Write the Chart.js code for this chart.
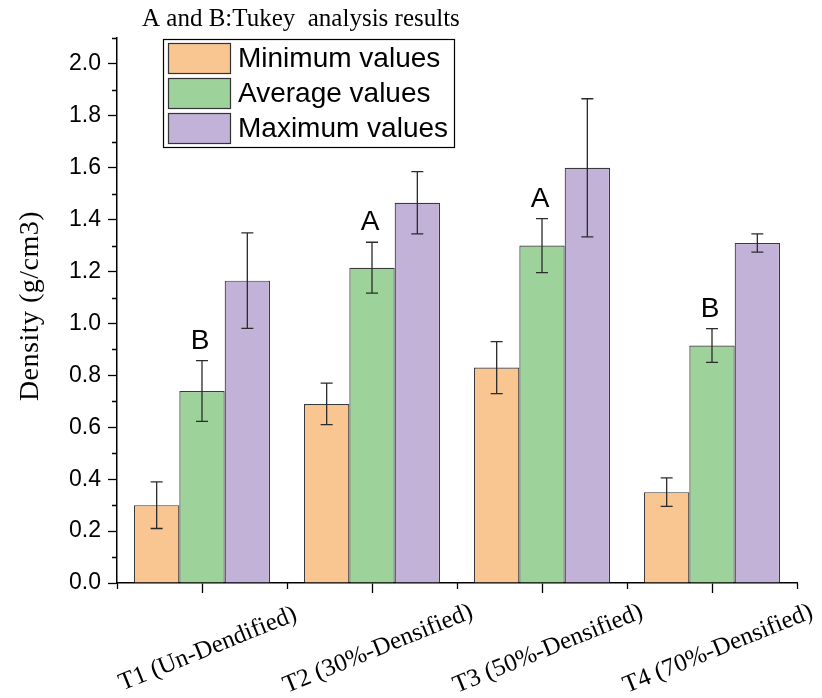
<!DOCTYPE html>
<html>
<head>
<meta charset="utf-8">
<script src="https://cdn.jsdelivr.net/npm/chart.js@4.4.0/dist/chart.umd.min.js"></script>
<style>
    html, body { margin: 0; padding: 0; background: #fff; }
</style>
</head>
<body>
<canvas id="grafico" width="822" height="698"></canvas>
<script>
// dados (densidade em g/cm3) e barras de erro
var categorias = ["T1 (Un-Dendified)", "T2 (30%-Densified)", "T3 (50%-Densified)", "T4 (70%-Densified)"];
var minimos = [0.30, 0.69, 0.83, 0.35];
var minimosErro = [0.09, 0.08, 0.10, 0.055];
var medias = [0.74, 1.215, 1.30, 0.915];
var mediasErro = [0.117, 0.098, 0.104, 0.065];
var maximos = [1.165, 1.465, 1.60, 1.31];
var maximosErro = [0.184, 0.12, 0.266, 0.035];
var letrasTukey = ["B", "A", "A", "B"];
var ticksY = [0, 0.2, 0.4, 0.6, 0.8, 1.0, 1.2, 1.4, 1.6, 1.8, 2.0];
var ticksMenoresY = [0.1, 0.3, 0.5, 0.7, 0.9, 1.1, 1.3, 1.5, 1.7, 1.9, 2.1];

var SERIF = "'Liberation Serif', 'Times New Roman', serif";
var SANS = "'Liberation Sans', Arial, sans-serif";

var extras = {
    id: "extras",
    afterDatasetsDraw: function (chart) {
        var ctx = chart.ctx;
        var y = chart.scales.y;
        ctx.save();
        ctx.strokeStyle = "#2b2b2b";
        ctx.lineWidth = 1.3;
        chart.data.datasets.forEach(function (ds, i) {
            chart.getDatasetMeta(i).data.forEach(function (barra, j) {
                var topo = y.getPixelForValue(ds.data[j] + ds.erros[j]);
                var base = y.getPixelForValue(ds.data[j] - ds.erros[j]);
                ctx.beginPath();
                ctx.moveTo(barra.x, topo); ctx.lineTo(barra.x, base);
                ctx.moveTo(barra.x - 6, topo); ctx.lineTo(barra.x + 6, topo);
                ctx.moveTo(barra.x - 6, base); ctx.lineTo(barra.x + 6, base);
                ctx.stroke();
            });
        });
        // letras do teste de Tukey por cima das medias
        ctx.fillStyle = "#000";
        ctx.font = "28px " + SANS;
        ctx.textAlign = "center";
        ctx.textBaseline = "alphabetic";
        chart.getDatasetMeta(1).data.forEach(function (barra, j) {
            var topo = y.getPixelForValue(medias[j] + mediasErro[j]);
            ctx.fillText(letrasTukey[j], barra.x - 2, topo - 12);
        });
        ctx.restore();
    },
    afterDraw: function (chart) {
        var ctx = chart.ctx;
        var area = chart.chartArea;
        var x = chart.scales.x;
        var y = chart.scales.y;
        ctx.save();
        ctx.strokeStyle = "#000";
        ctx.lineWidth = 1.3;

        // ticks menores
        ctx.beginPath();
        ticksMenoresY.forEach(function (v) {
            var py = Math.round(y.getPixelForValue(v)) + 0.5;
            ctx.moveTo(area.left - 5, py); ctx.lineTo(area.left, py);
        });
        for (var i = 0; i <= categorias.length; i++) {
            var px;
            if (i === 0) px = area.left;
            else if (i === categorias.length) px = area.right;
            else px = (x.getPixelForValue(i - 1) + x.getPixelForValue(i)) / 2;
            px = Math.round(px) + 0.5;
            ctx.moveTo(px, area.bottom); ctx.lineTo(px, area.bottom + 6);
        }
        ctx.stroke();

        // rotulos do eixo x
        ctx.fillStyle = "#000";
        ctx.font = "25px " + SERIF;
        ctx.textAlign = "center";
        ctx.textBaseline = "middle";
        categorias.forEach(function (c, j) {
            ctx.save();
            ctx.translate(x.getPixelForValue(j) + 6, area.bottom + 66);
            ctx.rotate(-22 * Math.PI / 180);
            ctx.fillText(c, 0, 0);
            ctx.restore();
        });

        // titulo do eixo y
        ctx.save();
        ctx.translate(31, 306);
        ctx.rotate(-Math.PI / 2);
        ctx.font = "28px " + SERIF;
        ctx.letterSpacing = "0.5px";
        ctx.fillText("Density (g/cm3)", 0, 0);
        ctx.restore();

        // titulo
        ctx.textAlign = "left";
        ctx.textBaseline = "alphabetic";
        ctx.font = "25px " + SERIF;
        ctx.fillText("A and B:Tukey  analysis results", area.left + 25, 26);

        // legenda
        var lx = area.left + 46, ly = 39;
        ctx.fillStyle = "#fff";
        ctx.fillRect(lx, ly, 291, 108);
        ctx.lineWidth = 1.2;
        ctx.strokeRect(lx + 0.5, ly + 0.5, 291, 108);
        ctx.font = "28px " + SANS;
        ctx.textBaseline = "middle";
        chart.data.datasets.forEach(function (ds, i) {
            var ry = ly + 4 + i * 35;
            ctx.fillStyle = ds.backgroundColor;
            ctx.fillRect(lx + 5, ry, 62, 30);
            ctx.strokeStyle = "#333";
            ctx.strokeRect(lx + 5.5, ry + 0.5, 62, 30);
            ctx.fillStyle = "#000";
            ctx.fillText(ds.label, lx + 75, ry + 16);
        });
        ctx.restore();
    }
};

var grafico = document.getElementById("grafico");

var densidadeChart = new Chart(grafico, {
    type: "bar",
    data: {
        labels: categorias,
        datasets: [
            {label: "Minimum values", data: minimos, erros: minimosErro, backgroundColor: "#F9C591"},
            {label: "Average values", data: medias, erros: mediasErro, backgroundColor: "#9DD39B"},
            {label: "Maximum values", data: maximos, erros: maximosErro, backgroundColor: "#C3B2D8"}
        ]
    },
    options: {
        responsive: false,
        devicePixelRatio: 1,
        animation: false,
        datasets: {
            bar: {categoryPercentage: 0.8, barPercentage: 1.0, borderColor: "#3a3a3a", borderWidth: 1.2}
        },
        layout: {padding: {top: 38, right: 25, left: 0, bottom: 0}},
        plugins: {legend: {display: false}, tooltip: {enabled: false}},
        scales: {
            x: {
                offset: true,
                grid: {offset: false, drawOnChartArea: false, tickLength: 10, color: "#000", tickColor: "#000", tickWidth: 1.3},
                border: {color: "#000", width: 1.5},
                ticks: {display: false},
                afterFit: function (s) { s.height = 115; }
            },
            y: {
                min: 0,
                max: 2.1,
                afterBuildTicks: function (s) {
                    s.ticks = ticksY.map(function (v) { return {value: v}; });
                },
                grid: {drawOnChartArea: false, tickLength: 9, color: "#000", tickColor: "#000", tickWidth: 1.3},
                border: {color: "#000", width: 1.5},
                ticks: {
                    color: "#000",
                    padding: 7,
                    font: {family: SANS, size: 23},
                    callback: function (v) { return Number(v).toFixed(1); }
                },
                afterFit: function (s) { s.width = 117; }
            }
        }
    },
    plugins: [extras]
});
</script>
</body>
</html>
